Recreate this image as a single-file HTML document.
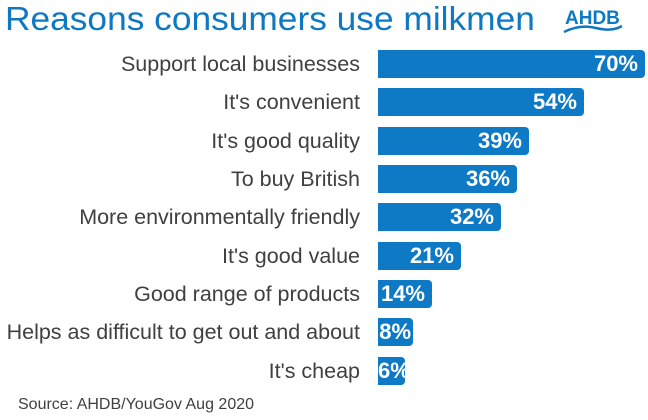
<!DOCTYPE html>
<html><head><style>
body{margin:0;width:648px;height:420px;background:#fff;font-family:"Liberation Sans",Arial,sans-serif;position:relative;overflow:hidden}
.t{position:absolute;left:5px;top:0px;font-size:33px;color:#0e78c2;white-space:nowrap;transform:scaleX(1.07);transform-origin:left}
.l{position:absolute;right:288px;font-size:21.5px;color:#404040;white-space:nowrap;line-height:28px}
.b{position:absolute;left:378px;height:28px;background:#0e7ac6;border-radius:0 4px 4px 0;color:#fff;font-weight:bold;font-size:22px;line-height:28px;text-align:right;box-sizing:border-box;padding-right:7px;overflow:hidden;white-space:nowrap}
.s{position:absolute;left:18px;top:396px;font-size:16px;color:#404040}
</style></head><body>
<div class="t">Reasons consumers use milkmen</div>
<svg style="position:absolute;left:560px;top:6px" width="70" height="30"><text x="5" y="18" font-family="Liberation Sans,Arial" font-weight="bold" font-size="19" fill="#0e78c2">AHDB</text><path d="M4 26 Q20 18 36 22 Q52 26 62 20" stroke="#0e78c2" stroke-width="2.5" fill="none"/></svg>
<div class="l" style="top:50px">Support local businesses</div><div class="b" style="top:50px;width:267px">70%</div>
<div class="l" style="top:88px">It's convenient</div><div class="b" style="top:88px;width:206px">54%</div>
<div class="l" style="top:127px">It's good quality</div><div class="b" style="top:127px;width:151px">39%</div>
<div class="l" style="top:165px">To buy British</div><div class="b" style="top:165px;width:139px">36%</div>
<div class="l" style="top:203px">More environmentally friendly</div><div class="b" style="top:203px;width:123px">32%</div>
<div class="l" style="top:242px">It's good value</div><div class="b" style="top:242px;width:83px">21%</div>
<div class="l" style="top:280px">Good range of products</div><div class="b" style="top:280px;width:54px">14%</div>
<div class="l" style="top:318px">Helps as difficult to get out and about</div><div class="b" style="top:318px;width:35px;padding-right:2px">8%</div>
<div class="l" style="top:357px">It's cheap</div><div class="b" style="top:357px;width:27px;padding-right:0">6%</div>
<div class="s">Source: AHDB/YouGov Aug 2020</div>
</body></html>
